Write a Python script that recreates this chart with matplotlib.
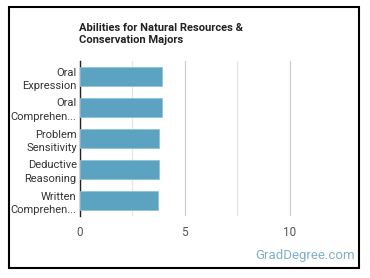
import matplotlib.pyplot as plt
from matplotlib.patches import Rectangle

plt.rcParams['font.family'] = ['Roboto', 'DejaVu Sans']

labels = ["Oral\nExpression", "Oral\nComprehen...", "Problem\nSensitivity",
          "Deductive\nReasoning", "Written\nComprehen..."]
values = [3.94, 3.90, 3.80, 3.80, 3.75]
ticks = [0, 5, 10]

W, H = 370, 278
fig = plt.figure(figsize=(W / 100, H / 100), dpi=100)

# outer frame
fig.patches.append(Rectangle((9 / W, 1 - 268 / H), 350 / W, 261 / H,
                             transform=fig.transFigure, fill=False,
                             edgecolor='black', linewidth=1.5))

ax = fig.add_axes([79.5 / W, 1 - 216 / H, 261 / W, 155 / H])
y = list(range(len(labels)))
ax.barh(y, values, height=0.63, color='#5ba3c1', edgecolor='#8cc3d8', linewidth=0.6, zorder=3)
ax.set_ylim(len(labels) - 0.5, -0.5)
ax.set_xlim(0, 12.4)
ax.set_yticks(y)
ax.set_yticklabels(labels, fontsize=8, color='#333333', linespacing=1.4)
ax.set_xticks(ticks)
ax.set_xticklabels([str(t) for t in ticks], fontsize=8.5, color='#555555')
ax.set_xticks([2.5, 7.5], minor=True)
ax.grid(axis='x', which='major', color='#cccccc', linewidth=0.9, zorder=0)
ax.grid(axis='x', which='minor', color='#e6e6e6', linewidth=0.9, zorder=0)
ax.tick_params(axis='both', which='both', length=0)
ax.tick_params(axis='x', pad=7)
ax.tick_params(axis='y', pad=2)
for s in ['top', 'right', 'bottom']:
    ax.spines[s].set_visible(False)
ax.spines['left'].set_color('#222222')
ax.spines['left'].set_linewidth(1)

fig.text(79 / W, 1 - 34 / H, "Abilities for Natural Resources &\nConservation Majors",
         fontsize=8, fontweight='bold', color='#222222', va='center', ha='left',
         linespacing=1.35)
fig.text(355 / W, 1 - 255 / H, "GradDegree.com", fontsize=9.5, color='#7fb0cc',
         ha='right', va='center')

fig.savefig('out.png', dpi=100)
